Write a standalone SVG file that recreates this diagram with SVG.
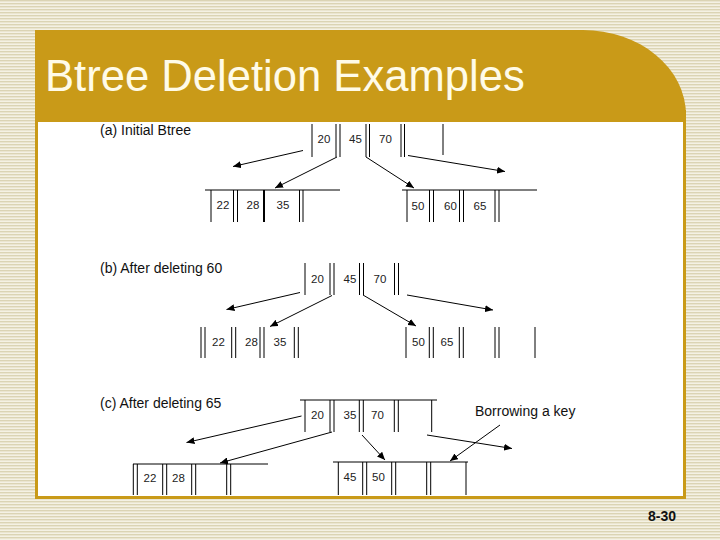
<svg xmlns="http://www.w3.org/2000/svg" width="720" height="540" viewBox="0 0 720 540">
<defs>
<pattern id="stripes" width="4" height="3" patternUnits="userSpaceOnUse">
<rect width="4" height="3" fill="#f4f1e4"/>
<rect width="4" height="1.4" fill="#dbd4b4"/>
</pattern>
<marker id="ah" markerUnits="userSpaceOnUse" markerWidth="9" markerHeight="7" refX="8" refY="3.5" orient="auto">
<path d="M0,0 L8,3.5 L0,7 z" fill="#000"/>
</marker>
<style>
.ln{stroke:#000;stroke-width:1;fill:none}
.thick{stroke:#000;stroke-width:2;fill:none}
.num{font-family:"Liberation Sans",Arial,sans-serif;font-size:11.5px;fill:#222}
.lbl{font-family:"Liberation Sans",Arial,sans-serif;font-size:14px;fill:#111}
.con{stroke:#000;stroke-width:1;fill:none;marker-end:url(#ah)}
</style>
</defs>
<rect width="720" height="540" fill="url(#stripes)"/>
<g id="frame">
<rect x="35" y="110" width="651" height="389" fill="#c99a18"/>
<path d="M35,30 H583 A103,85 0 0 1 686,115 V122 H35 Z" fill="#c99a18"/>
<rect x="38" y="122" width="645" height="374" fill="#fff"/>
<text x="45" y="91" font-family="Liberation Sans,Arial,sans-serif" font-size="43.6" fill="#fffbe8">Btree Deletion Examples</text>
</g>
<g id="labels">
<text class="lbl" x="100" y="135">(a) Initial Btree</text>
<text class="lbl" x="100" y="273">(b) After deleting 60</text>
<text class="lbl" x="100" y="408">(c) After deleting 65</text>
<text class="lbl" x="475" y="416">Borrowing a key</text>
</g>
<g id="a-root">
<path class="ln" d="M312,124V157 M336,124V157 M340,124V157 M366,124V157 M369.5,124V157 M401,124V157 M404.5,124V157 M443,124V155"/>
<text class="num" x="317.5" y="143">20</text><text class="num" x="349" y="143">45</text><text class="num" x="379" y="143">70</text>
</g>
<g id="a-left">
<path class="ln" d="M205,190H340 M211,190V222 M233.5,190V222 M237.5,190V222 M299.5,190V222 M303,190V222"/>
<path class="thick" d="M264,190V222"/>
<text class="num" x="216.5" y="209">22</text><text class="num" x="246.5" y="209">28</text><text class="num" x="276.5" y="209">35</text>
</g>
<g id="a-right">
<path class="ln" d="M402,190H537 M407,190V222 M429.5,190V222 M433.5,190V222 M459.5,190V222 M463.5,190V222 M495,190V222 M499,190V222"/>
<text class="num" x="411.5" y="210">50</text><text class="num" x="444" y="210">60</text><text class="num" x="473.5" y="210">65</text>
</g>
<g id="b-root">
<path class="ln" d="M305,263V295 M330,263V295 M334,263V295 M359.5,263V295 M363.5,263V295 M394.5,263V295 M398.5,263V295"/>
<text class="num" x="311" y="283">20</text><text class="num" x="343.5" y="283">45</text><text class="num" x="373.5" y="283">70</text>
</g>
<g id="b-left">
<path class="ln" d="M201,327V358 M205,327V358 M231.7,327V358 M235.7,327V358 M260,327V358 M264,327V358 M294.3,327V358 M298.3,327V358"/>
<text class="num" x="212" y="346">22</text><text class="num" x="245" y="346">28</text><text class="num" x="273.5" y="346">35</text>
</g>
<g id="b-right">
<path class="ln" d="M406,327V358 M429.3,327V358 M433.3,327V358 M459.3,327V358 M463.3,327V358 M495,327V358 M499,327V358 M535,327V358"/>
<text class="num" x="412" y="346">50</text><text class="num" x="440.5" y="346">65</text>
</g>
<g id="c-root">
<path class="ln" d="M300,400H437 M305,400V432 M330,400V432 M334,400V432 M359.3,400V432 M363.3,400V432 M394.3,400V432 M398.3,400V432 M431.7,400V432"/>
<text class="num" x="311" y="419">20</text><text class="num" x="343.5" y="419">35</text><text class="num" x="371" y="419">70</text>
</g>
<g id="c-left">
<path class="ln" d="M133,464H268 M133.3,464V495 M137.3,464V495 M162.7,464V495 M166.7,464V495 M191.7,464V495 M195.7,464V495 M226.7,464V495 M230.7,464V495"/>
<text class="num" x="143.5" y="482">22</text><text class="num" x="172" y="482">28</text>
</g>
<g id="c-right">
<path class="ln" d="M333,462H468 M338.3,462V495 M362.7,462V495 M366.7,462V495 M391.7,462V495 M395.7,462V495 M426.7,462V495 M430.7,462V495 M466,462V495"/>
<text class="num" x="343.5" y="481">45</text><text class="num" x="372" y="481">50</text>
</g>
<g id="connectors">
<line class="con" x1="303" y1="150.5" x2="233" y2="166.5"/>
<line class="con" x1="337" y1="157" x2="275" y2="188"/>
<line class="con" x1="366" y1="157" x2="414" y2="188"/>
<line class="con" x1="408" y1="155.5" x2="505" y2="171.5"/>
<line class="con" x1="300" y1="292.5" x2="226.5" y2="309.5"/>
<line class="con" x1="332" y1="295.5" x2="270" y2="326.5"/>
<line class="con" x1="363" y1="295" x2="416" y2="326"/>
<line class="con" x1="407" y1="295" x2="493" y2="310"/>
<line class="con" x1="301.5" y1="416" x2="186.5" y2="442.5"/>
<line class="con" x1="332" y1="432" x2="220" y2="463"/>
<line class="con" x1="362" y1="435" x2="385" y2="460"/>
<line class="con" x1="427" y1="435" x2="512" y2="448.5"/>
<line class="con" x1="500" y1="425" x2="450" y2="461"/>
</g>
<text x="648" y="521" font-family="Liberation Sans,Arial,sans-serif" font-size="14" font-weight="bold" fill="#111">8-30</text>
</svg>
